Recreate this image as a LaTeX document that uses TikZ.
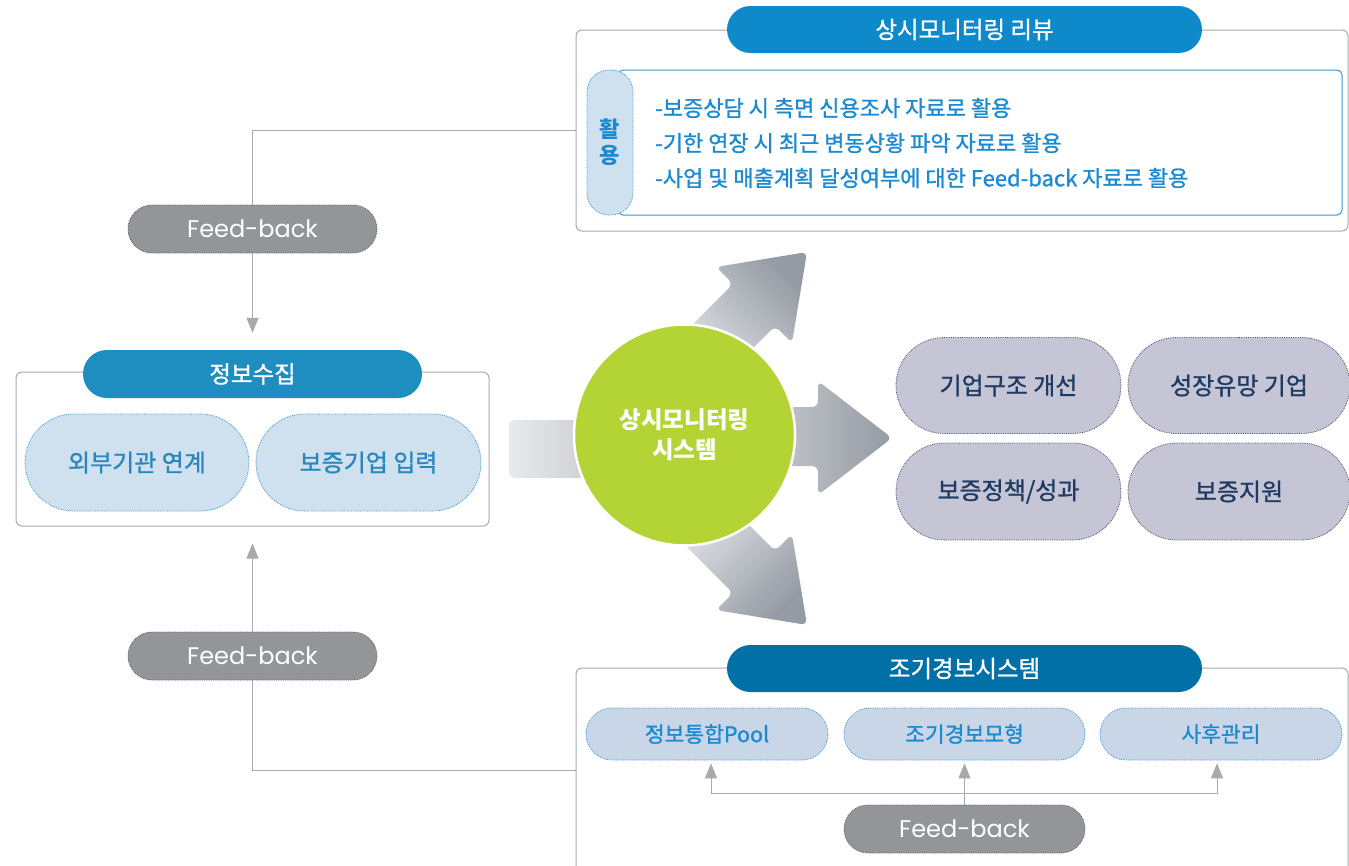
\documentclass[tikz,border=0pt]{standalone}
\usepackage{fontspec}
\setmainfont{Noto Sans CJK KR}
\newfontfamily\med[FakeBold=1.1]{Noto Sans CJK KR}
\newfontfamily\pop{Poppins}
\usetikzlibrary{shapes.misc,arrows.meta,calc}
\definecolor{topblue}{HTML}{0E89CA}
\definecolor{infoblue}{HTML}{1E8DBF}
\definecolor{ewsblue}{HTML}{0070A7}
\definecolor{paleblue}{HTML}{CFE0EF}
\definecolor{palebluetwo}{HTML}{C9D6E8}
\definecolor{dotblue}{HTML}{3A95CF}
\definecolor{txtblue}{HTML}{1C8AD1}
\definecolor{subtxt}{HTML}{2A87BD}
\definecolor{fbgray}{HTML}{939598}
\definecolor{fbdot}{HTML}{5E5F61}
\definecolor{gline}{HTML}{A7A9AC}
\definecolor{lav}{HTML}{C5C5D5}
\definecolor{lavdot}{HTML}{4A5272}
\definecolor{navy}{HTML}{1F3B64}
\definecolor{lime}{HTML}{B4D334}
\definecolor{aL}{HTML}{E8E9EC}
\definecolor{aM}{HTML}{C4C7CC}
\definecolor{aD}{HTML}{959BA4}
\begin{document}
\begin{tikzpicture}[x=1pt,y=-1pt,
  outerbox/.style={draw=gline, line width=1pt, rounded corners=6pt, inner sep=0pt},
  titlepill/.style={rounded rectangle, text=white, inner sep=0pt, font=\med\fontsize{23.5}{26}\selectfont},
  bluepill/.style={rounded rectangle, fill=paleblue, draw=dotblue, densely dotted, line width=0.8pt, text=subtxt, inner sep=0pt, font=\med\fontsize{24}{28}\selectfont},
  smallpill/.style={rounded rectangle, fill=palebluetwo, draw=dotblue, densely dotted, line width=0.8pt, text=txtblue, inner sep=0pt, font=\med\fontsize{21.5}{24}\selectfont},
  lavpill/.style={rounded rectangle, fill=lav, draw=lavdot, densely dotted, line width=0.8pt, text=navy, inner sep=0pt, font=\med\fontsize{24}{28}\selectfont},
  fbpill/.style={rounded rectangle, fill=fbgray, draw=fbdot, densely dotted, line width=0.8pt, text=white, inner sep=0pt, minimum width=249pt, minimum height=48pt, font=\pop\fontsize{24}{27}\selectfont},
  fbline/.style={draw=gline, line width=1pt, -{Triangle[width=12pt,length=15pt]}},
  revtxt/.style={anchor=west, text=txtblue, inner sep=0pt, font=\med\fontsize{22}{26}\selectfont}
]
\useasboundingbox[fill=white] (0,0) rectangle (1349,865);

% ---------- top: review ----------
\node[outerbox, minimum width=772pt, minimum height=201pt] (rev) at (962,130.5) {};
\node[titlepill, fill=topblue, minimum width=475pt, minimum height=47pt] (revtitle) at (964.5,29.5) {상시모니터링 리뷰};
\node[draw=dotblue, line width=1pt, rounded corners=5pt, minimum width=724pt, minimum height=145pt, inner sep=0pt] (revin) at (980,142.5) {};
\node[fill=paleblue, draw=dotblue, densely dotted, line width=0.8pt, rounded corners=22pt, minimum width=46pt, minimum height=145pt, inner sep=0pt, text=txtblue, align=center, font=\bfseries\fontsize{22}{26}\selectfont] (use) at (610,142.5) {활\\용};
\node[revtxt] (r1) at (655,108) {-보증상담 시 측면 신용조사 자료로 활용};
\node[revtxt] (r2) at (655,143) {-기한 연장 시 최근 변동상황 파악 자료로 활용};
\node[revtxt] (r3) at (655,178) {-사업 및 매출계획 달성여부에 대한 Feed-back 자료로 활용};

% ---------- left: info collection ----------
\node[outerbox, minimum width=473pt, minimum height=154pt] (info) at (252.5,449) {};
\node[titlepill, fill=infoblue, minimum width=339pt, minimum height=48pt] (infotitle) at (252.5,374) {정보수집};
\node[bluepill, minimum width=224pt, minimum height=97pt] (ext) at (137,462.5) {외부기관 연계};
\node[bluepill, minimum width=225pt, minimum height=97pt] (inp) at (368.5,462.5) {보증기업 입력};

% ---------- bottom: early warning ----------
\node[outerbox, minimum width=772pt, minimum height=220pt] (ews) at (962,778) {};
\node[titlepill, fill=ewsblue, minimum width=475pt, minimum height=47pt] (ewstitle) at (964.5,668.5) {조기경보시스템};
\node[smallpill, minimum width=242pt, minimum height=52pt] (pool) at (707,734) {정보통합Pool};
\node[smallpill, minimum width=241pt, minimum height=52pt] (model) at (964.5,734) {조기경보모형};
\node[smallpill, minimum width=242pt, minimum height=52pt] (after) at (1221,734) {사후관리};

% ---------- feedback connectors ----------
\coordinate (ewsl) at (576,770);
\coordinate (hub) at (964.5,793);
\draw[fbline, shorten >=17pt] (rev.west) -| (infotitle.north);
\draw[fbline, shorten >=17pt] (ewsl) -| (info.south);
\draw[fbline, shorten >=3pt] ($(hub)+(0,12)$) -- (model.south);
\draw[fbline, shorten >=3pt] (hub) -| ($(pool.south)+(4,0)$);
\draw[fbline, shorten >=3pt] (hub) -| ($(after.south)+(-4,0)$);
\node[fbpill] (fb1) at (252.5,229) {Feed-back};
\node[fbpill] (fb2) at (252.5,656) {Feed-back};
\node[fbpill, minimum width=241pt] (fb3) at (964.5,829) {Feed-back};

% ---------- gradient arrows ----------
\path[shade, left color=aL, right color=aM, rounded corners=6pt] (509,420) rectangle (620,478);
\path[shade, left color=aM!70!aL, right color=aD, rounded corners=6pt]
  (740,407) -- (818,407) -- (818,381) -- (892,438) -- (818,495) -- (818,466) -- (740,466) -- cycle;
\path[shade, top color=aD, bottom color=aL, shading angle=-45, rounded corners=6pt]
  (670,347) -- (733,284) -- (716,267) -- (807,252) -- (792,343) -- (775,326) -- (712,389) -- cycle;
\path[shade, bottom color=aD, top color=aL, shading angle=45, rounded corners=6pt]
  (670,530) -- (733,593) -- (716,610) -- (807,625) -- (792,534) -- (775,551) -- (712,488) -- cycle;

% ---------- centre circle ----------
\node[circle, fill=lime, draw=white, line width=2.5pt, minimum size=221pt, inner sep=0pt, text=white, align=center, font=\bfseries\fontsize{23.5}{30}\selectfont] (core) at (684.5,435) {상시모니터링\\시스템};

% ---------- outcome pills ----------
\node[lavpill, minimum width=225pt, minimum height=96pt] (p1) at (1008.5,385.5) {기업구조 개선};
\node[lavpill, minimum width=222pt, minimum height=96pt] (p2) at (1239,385.5) {성장유망 기업};
\node[lavpill, minimum width=225pt, minimum height=97pt] (p3) at (1008.5,491.5) {보증정책/성과};
\node[lavpill, minimum width=222pt, minimum height=97pt] (p4) at (1239,491.5) {보증지원};
\end{tikzpicture}
\end{document}
